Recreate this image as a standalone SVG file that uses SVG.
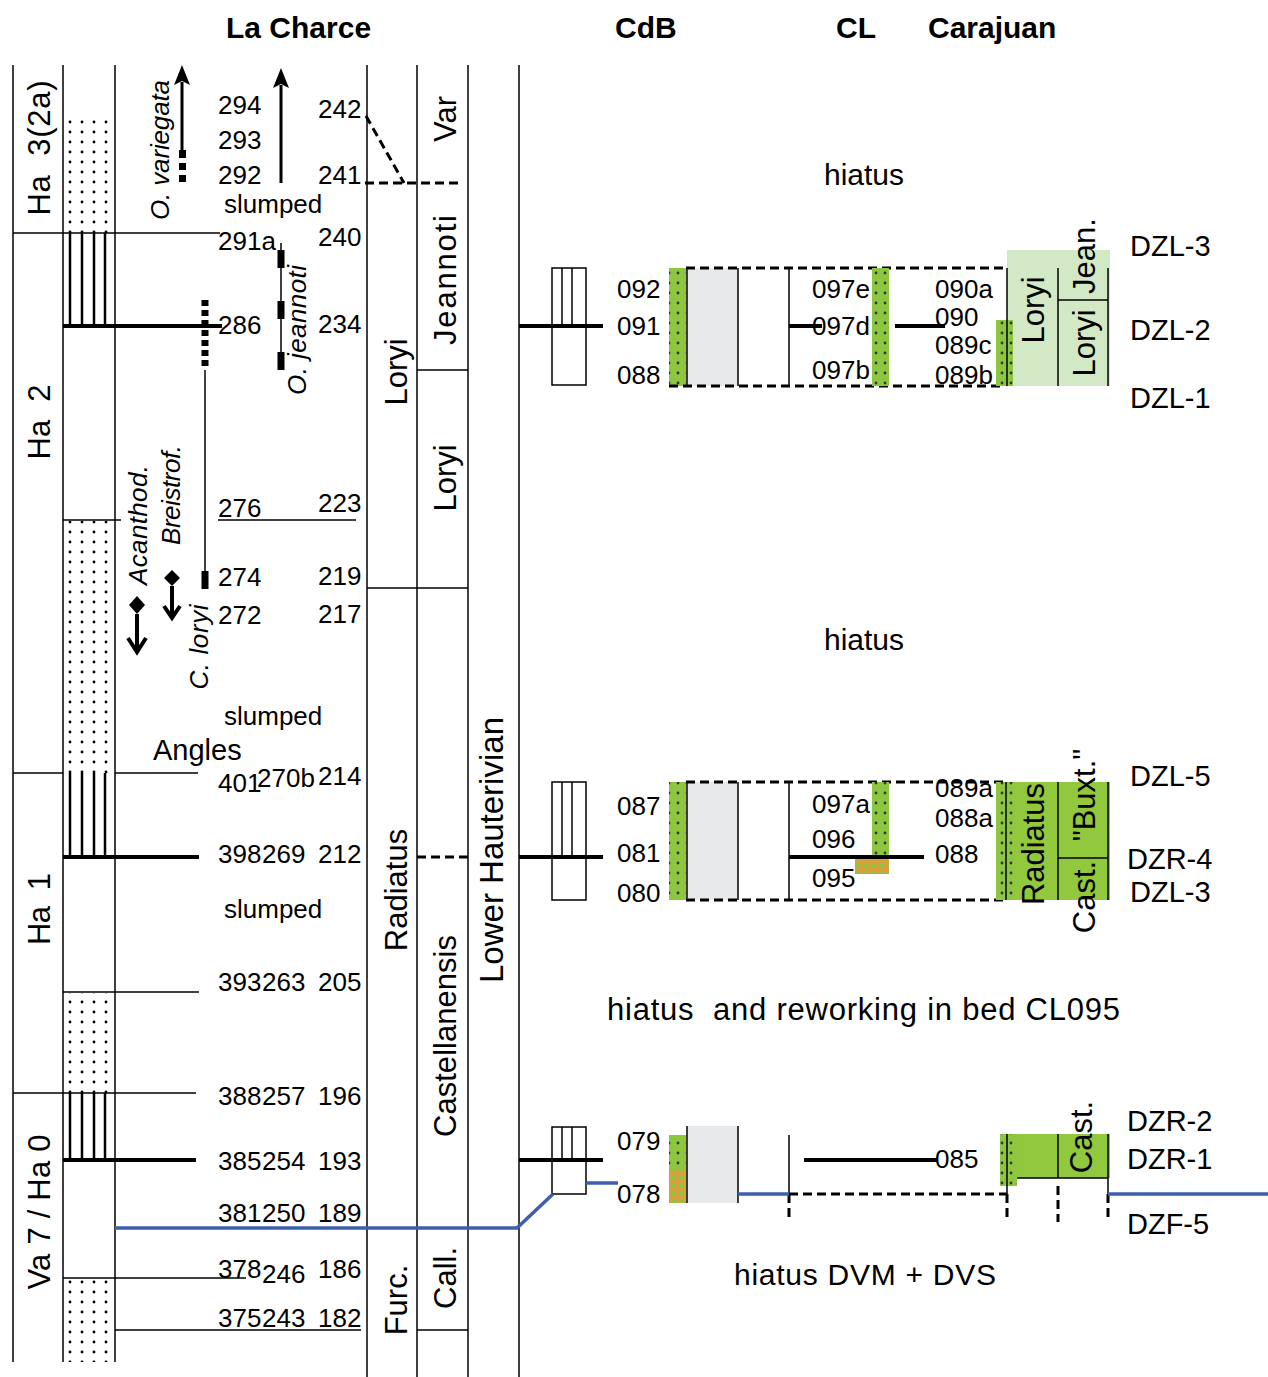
<svg xmlns="http://www.w3.org/2000/svg" width="1268" height="1377" viewBox="0 0 1268 1377">
<style>
.t{font-family:"Liberation Sans",Arial,sans-serif;font-size:26px;fill:#000}
.r{font-family:"Liberation Sans",Arial,sans-serif;font-size:31px;fill:#000;text-anchor:middle}
.i{font-style:italic}
.h{font-family:"Liberation Sans",Arial,sans-serif;font-size:30px;font-weight:bold;fill:#000}
.ln{stroke:#000;stroke-width:1.5;fill:none}
.bd{stroke:#000;stroke-width:4;fill:none}
.ds{stroke:#000;stroke-width:3;stroke-dasharray:9 5;fill:none}
.bl{stroke:#3e5fae;stroke-width:3.5;fill:none}
</style>
<defs>
<pattern id="dots" patternUnits="userSpaceOnUse" x="64" y="118" width="12" height="10"><circle cx="6" cy="4" r="1.4" fill="#000"/></pattern>
<pattern id="gdots" patternUnits="userSpaceOnUse" x="0" y="0" width="9" height="10"><rect width="9" height="10" fill="#8dc63f"/><circle cx="3" cy="3" r="1.4" fill="#333"/></pattern>
<pattern id="odots" patternUnits="userSpaceOnUse" x="0" y="0" width="8" height="8"><rect width="8" height="8" fill="#d4a13d"/><rect x="0" y="0" width="4" height="4" fill="#8dc63f"/></pattern>
</defs>
<rect width="1268" height="1377" fill="#fff"/>

<g id="headers">
<text class="h" x="226" y="38">La Charce</text>
<text class="h" x="615" y="38">CdB</text>
<text class="h" x="836" y="38">CL</text>
<text class="h" x="928" y="38">Carajuan</text>
</g>

<g id="lithology">
<rect x="64" y="118" width="51" height="115" fill="url(#dots)"/>
<rect x="64" y="521" width="51" height="252" fill="url(#dots)"/>
<rect x="64" y="993" width="51" height="100" fill="url(#dots)"/>
<rect x="64" y="1279" width="51" height="83" fill="url(#dots)"/>
<g stroke="#000" stroke-width="2.5">
<line x1="70" y1="233" x2="70" y2="326"/><line x1="82" y1="233" x2="82" y2="326"/><line x1="94" y1="233" x2="94" y2="326"/><line x1="105" y1="233" x2="105" y2="326"/>
<line x1="70" y1="773" x2="70" y2="857"/><line x1="82" y1="773" x2="82" y2="857"/><line x1="94" y1="773" x2="94" y2="857"/><line x1="105" y1="773" x2="105" y2="857"/>
<line x1="70" y1="1093" x2="70" y2="1160"/><line x1="82" y1="1093" x2="82" y2="1160"/><line x1="94" y1="1093" x2="94" y2="1160"/><line x1="105" y1="1093" x2="105" y2="1160"/>
</g>
</g>

<g id="grid">
<line class="ln" x1="13" y1="65" x2="13" y2="1362"/>
<line class="ln" x1="63" y1="65" x2="63" y2="1362"/>
<line class="ln" x1="115" y1="65" x2="115" y2="1362"/>
<line class="ln" x1="367" y1="65" x2="367" y2="1377"/>
<line class="ln" x1="417" y1="65" x2="417" y2="1377"/>
<line class="ln" x1="468" y1="65" x2="468" y2="1377"/>
<line class="ln" x1="519" y1="65" x2="519" y2="1377"/>
<line class="ln" x1="13" y1="233" x2="220" y2="233"/>
<line class="bd" x1="63" y1="326" x2="222" y2="326"/>
<line class="ln" x1="63" y1="520" x2="121" y2="520"/>
<line class="ln" x1="218" y1="520" x2="356" y2="520"/>
<line class="ln" x1="13" y1="773" x2="63" y2="773"/>
<line class="ln" x1="115" y1="773" x2="198" y2="773"/>
<line class="bd" x1="63" y1="857" x2="199" y2="857"/>
<line class="ln" x1="63" y1="992" x2="199" y2="992"/>
<line class="ln" x1="13" y1="1093" x2="196" y2="1093"/>
<line class="bd" x1="63" y1="1160" x2="196" y2="1160"/>
<line class="ln" x1="63" y1="1278" x2="246" y2="1278"/>
<line class="ln" x1="115" y1="1330" x2="361" y2="1330"/>
<line class="ln" x1="417" y1="370" x2="468" y2="370"/>
<line class="ln" x1="367" y1="588" x2="468" y2="588"/>
<line class="ln" x1="417" y1="1330" x2="468" y2="1330"/>
<line class="ds" x1="417" y1="857" x2="468" y2="857" stroke-width="2"/>
<line class="ds" x1="365" y1="183" x2="462" y2="183" stroke-width="2.5"/>
<line class="ds" x1="366" y1="116" x2="404" y2="183"/>
</g>

<g id="zone-labels">
<text class="r" transform="translate(50,148) rotate(-90)" textLength="135" lengthAdjust="spacing" xml:space="preserve">Ha  3(2a)</text>
<text class="r" transform="translate(50,422) rotate(-90)" textLength="75" lengthAdjust="spacing" xml:space="preserve">Ha  2</text>
<text class="r" transform="translate(50,909) rotate(-90)" textLength="72" lengthAdjust="spacing" xml:space="preserve">Ha  1</text>
<text class="r" transform="translate(50,1212) rotate(-90)" textLength="155" lengthAdjust="spacing">Va 7 / Ha 0</text>
<text class="r" transform="translate(407,372) rotate(-90)">Loryi</text>
<text class="r" transform="translate(407,890) rotate(-90)">Radiatus</text>
<text class="r" transform="translate(407,1300) rotate(-90)">Furc.</text>
<text class="r" transform="translate(456,119) rotate(-90)">Var</text>
<text class="r" transform="translate(456,280) rotate(-90)" textLength="130">Jeannoti</text>
<text class="r" transform="translate(456,478) rotate(-90)">Loryi</text>
<text class="r" transform="translate(456,1036) rotate(-90)" textLength="202">Castellanensis</text>
<text class="r" transform="translate(456,1278) rotate(-90)">Call.</text>
<text class="r" style="font-size:33px" transform="translate(503,850) rotate(-90)">Lower Hauterivian</text>
</g>

<g id="taxa">
<text class="r i" style="font-size:26px" transform="translate(169,150) rotate(-90)" textLength="140">O. variegata</text>
<text class="r i" style="font-size:26px" transform="translate(306,330) rotate(-90)" textLength="130">O. jeannoti</text>
<text class="r i" style="font-size:26px" transform="translate(147,525) rotate(-90)" textLength="120">Acanthod.</text>
<text class="r i" style="font-size:26px" transform="translate(180,495) rotate(-90)" textLength="100">Breistrof.</text>
<text class="r i" style="font-size:26px" transform="translate(208,647) rotate(-90)" textLength="85">C. loryi</text>
<path d="M182,65 L174,85 L182,81 L190,85 Z" fill="#000"/>
<line x1="182" y1="82" x2="182" y2="150" stroke="#000" stroke-width="3"/>
<rect x="179" y="150" width="7" height="8" fill="#000"/>
<rect x="179" y="163" width="7" height="7" fill="#000"/>
<rect x="179" y="175" width="7" height="7" fill="#000"/>
<path d="M281,68 L273,88 L281,84 L289,88 Z" fill="#000"/>
<line x1="281" y1="85" x2="281" y2="183" stroke="#000" stroke-width="3"/>
<line x1="281" y1="243" x2="281" y2="370" stroke="#000" stroke-width="1.5"/>
<rect x="277.5" y="250" width="7" height="18" fill="#000"/>
<rect x="277.5" y="301" width="7" height="18" fill="#000"/>
<rect x="277.5" y="352" width="7" height="18" fill="#000"/>
<line x1="205" y1="300" x2="205" y2="370" stroke="#000" stroke-width="7" stroke-dasharray="6 4"/>
<line x1="205" y1="370" x2="205" y2="572" stroke="#000" stroke-width="1.5"/>
<rect x="201.5" y="571" width="7" height="18" fill="#000"/>
<path d="M172,570 L180,578 L172,586 L164,578 Z" fill="#000"/>
<path d="M172,586 V618 M164,606 L172,618 L180,606" stroke="#000" stroke-width="4" fill="none"/>
<path d="M137,596 L145,605 L137,614 L129,605 Z" fill="#000"/>
<path d="M137,614 V652 M128,638 L137,652 L146,638" stroke="#000" stroke-width="4" fill="none"/>
</g>

<g id="la-charce-beds">
<text class="t" x="218" y="114">294</text>
<text class="t" x="218" y="149">293</text>
<text class="t" x="218" y="184">292</text>
<text class="t" x="318" y="118">242</text>
<text class="t" x="318" y="184">241</text>
<text class="t" x="224" y="213">slumped</text>
<text class="t" x="218" y="250">291a</text>
<text class="t" x="318" y="246">240</text>
<text class="t" x="218" y="334">286</text>
<text class="t" x="318" y="333">234</text>
<text class="t" x="218" y="517">276</text>
<text class="t" x="318" y="512">223</text>
<text class="t" x="218" y="586">274</text>
<text class="t" x="318" y="585">219</text>
<text class="t" x="218" y="624">272</text>
<text class="t" x="318" y="623">217</text>
<text class="t" x="224" y="725">slumped</text>
<text class="t" x="153" y="760" style="font-size:29px">Angles</text>
<text class="t" x="218" y="792">401</text>
<text class="t" x="257" y="787">270b</text>
<text class="t" x="318" y="785">214</text>
<text class="t" x="218" y="863">398</text>
<text class="t" x="262" y="863">269</text>
<text class="t" x="318" y="863">212</text>
<text class="t" x="224" y="918">slumped</text>
<text class="t" x="218" y="991">393</text>
<text class="t" x="262" y="991">263</text>
<text class="t" x="318" y="991">205</text>
<text class="t" x="218" y="1105">388</text>
<text class="t" x="262" y="1105">257</text>
<text class="t" x="318" y="1105">196</text>
<text class="t" x="218" y="1170">385</text>
<text class="t" x="262" y="1170">254</text>
<text class="t" x="318" y="1170">193</text>
<text class="t" x="218" y="1222">381</text>
<text class="t" x="262" y="1222">250</text>
<text class="t" x="318" y="1222">189</text>
<text class="t" x="218" y="1278">378</text>
<text class="t" x="262" y="1283">246</text>
<text class="t" x="318" y="1278">186</text>
<text class="t" x="218" y="1327">375</text>
<text class="t" x="262" y="1327">243</text>
<text class="t" x="318" y="1327">182</text>
</g>

<g id="block-top">
<rect x="552" y="268" width="34" height="117" fill="#fff" stroke="#000" stroke-width="1.5"/>
<line class="ln" x1="562" y1="268" x2="562" y2="326" stroke-width="2.5"/>
<line class="ln" x1="572" y1="268" x2="572" y2="326" stroke-width="2.5"/>
<line class="bd" x1="519" y1="326" x2="603" y2="326"/>
<rect x="669" y="268" width="17" height="118" fill="url(#gdots)"/>
<rect x="687" y="268" width="51" height="118" fill="#e8e9eb"/>
<line class="ln" x1="687" y1="268" x2="687" y2="386" stroke-width="2"/>
<line class="ln" x1="738" y1="268" x2="738" y2="386"/>
<line class="ln" x1="789" y1="268" x2="789" y2="386"/>
<line class="ds" x1="686" y1="268" x2="1006" y2="268"/>
<line class="ds" x1="669" y1="386" x2="1000" y2="386"/>
<line class="bd" x1="789" y1="326" x2="822" y2="326"/>
<rect x="872" y="268" width="17" height="118" fill="url(#gdots)"/>
<line class="bd" x1="895" y1="326" x2="945" y2="326"/>
<rect x="1007" y="250" width="103" height="136" fill="#d3e9c6"/>
<rect x="996" y="320" width="17" height="66" fill="url(#gdots)"/>
<line class="ln" x1="1007" y1="268" x2="1007" y2="386"/>
<line class="ln" x1="1058" y1="268" x2="1058" y2="386"/>
<line class="ln" x1="1108" y1="268" x2="1108" y2="386"/>
<line class="ln" x1="1058" y1="300" x2="1108" y2="300"/>
<text class="t" x="617" y="298">092</text>
<text class="t" x="617" y="335">091</text>
<text class="t" x="617" y="384">088</text>
<text class="t" x="812" y="298">097e</text>
<text class="t" x="812" y="335">097d</text>
<text class="t" x="812" y="379">097b</text>
<text class="t" x="935" y="298">090a</text>
<text class="t" x="935" y="326">090</text>
<text class="t" x="935" y="354">089c</text>
<text class="t" x="935" y="384">089b</text>
<text class="r" transform="translate(1044,310) rotate(-90)">Loryi</text>
<text class="r" transform="translate(1095,256) rotate(-90)">Jean.</text>
<text class="r" transform="translate(1095,343) rotate(-90)">Loryi</text>
</g>

<g id="block-middle">
<rect x="552" y="782" width="34" height="118" fill="#fff" stroke="#000" stroke-width="1.5"/>
<line class="ln" x1="562" y1="782" x2="562" y2="857" stroke-width="2.5"/>
<line class="ln" x1="572" y1="782" x2="572" y2="857" stroke-width="2.5"/>
<line class="bd" x1="519" y1="857" x2="603" y2="857"/>
<rect x="669" y="782" width="17" height="118" fill="url(#gdots)"/>
<rect x="687" y="782" width="51" height="118" fill="#e8e9eb"/>
<line class="ln" x1="687" y1="782" x2="687" y2="900" stroke-width="2"/>
<line class="ln" x1="738" y1="782" x2="738" y2="900"/>
<line class="ln" x1="789" y1="782" x2="789" y2="900"/>
<line class="ds" x1="686" y1="782" x2="1006" y2="782"/>
<line class="ds" x1="686" y1="900" x2="1006" y2="900"/>
<rect x="872" y="782" width="17" height="75" fill="url(#gdots)"/>
<rect x="855" y="858" width="34" height="16" fill="url(#odots)"/>
<line class="bd" x1="789" y1="857" x2="924" y2="857"/>
<rect x="996" y="782" width="114" height="118" fill="#92c83e"/>
<rect x="996" y="782" width="17" height="118" fill="url(#gdots)"/>
<line class="ln" x1="1006" y1="782" x2="1006" y2="900"/>
<line class="ln" x1="1058" y1="782" x2="1058" y2="900"/>
<line class="ln" x1="1108" y1="782" x2="1108" y2="900"/>
<line class="ln" x1="1058" y1="858" x2="1108" y2="858"/>
<text class="t" x="617" y="815">087</text>
<text class="t" x="617" y="862">081</text>
<text class="t" x="617" y="902">080</text>
<text class="t" x="812" y="813">097a</text>
<text class="t" x="812" y="848">096</text>
<text class="t" x="812" y="887">095</text>
<text class="t" x="935" y="797">089a</text>
<text class="t" x="935" y="827">088a</text>
<text class="t" x="935" y="863">088</text>
<text class="r" transform="translate(1044,844) rotate(-90)" textLength="122">Radiatus</text>
<text class="r" transform="translate(1095,795) rotate(-90)">"Buxt."</text>
<text class="r" transform="translate(1095,897) rotate(-90)">Cast.</text>
</g>

<g id="block-bottom">
<rect x="552" y="1127" width="34" height="67" fill="#fff" stroke="#000" stroke-width="1.5"/>
<line class="ln" x1="562" y1="1127" x2="562" y2="1160" stroke-width="2.5"/>
<line class="ln" x1="572" y1="1127" x2="572" y2="1160" stroke-width="2.5"/>
<line class="bd" x1="519" y1="1160" x2="603" y2="1160"/>
<rect x="669" y="1135" width="17" height="35" fill="url(#gdots)"/>
<rect x="669" y="1170" width="17" height="33" fill="url(#odots)"/>
<rect x="687" y="1126" width="51" height="77" fill="#e8e9eb"/>
<line class="ln" x1="687" y1="1126" x2="687" y2="1203" stroke-width="2"/>
<line class="ln" x1="738" y1="1126" x2="738" y2="1203"/>
<line class="ln" x1="789" y1="1135" x2="789" y2="1194"/>
<line class="ds" x1="789" y1="1194" x2="789" y2="1222" stroke-dasharray="8 6"/>
<line class="ds" x1="789" y1="1194" x2="1007" y2="1194"/>
<line class="bd" x1="804" y1="1160" x2="937" y2="1160"/>
<rect x="1000" y="1134" width="110" height="44" fill="#92c83e"/>
<rect x="1000" y="1134" width="17" height="52" fill="url(#gdots)"/>
<line class="ln" x1="1007" y1="1134" x2="1007" y2="1194"/>
<line class="ln" x1="1058" y1="1134" x2="1058" y2="1178"/>
<line class="ln" x1="1108" y1="1134" x2="1108" y2="1194"/>
<line class="ln" x1="1017" y1="1178" x2="1108" y2="1178"/>
<line class="ds" x1="1007" y1="1194" x2="1007" y2="1222" stroke-dasharray="8 6"/>
<line class="ds" x1="1058" y1="1186" x2="1058" y2="1222" stroke-dasharray="8 6"/>
<line class="ds" x1="1108" y1="1194" x2="1108" y2="1222" stroke-dasharray="8 6"/>
<text class="t" x="617" y="1150">079</text>
<text class="t" x="617" y="1203">078</text>
<text class="t" x="935" y="1168">085</text>
<text class="r" transform="translate(1092,1137) rotate(-90)">Cast.</text>
</g>

<g id="connectors">
<polyline class="bl" points="115,1228 517,1228 553,1194"/>
<line class="bl" x1="586" y1="1183" x2="618" y2="1183"/>
<line class="bl" x1="738" y1="1194" x2="789" y2="1194"/>
<line class="bl" x1="1108" y1="1194" x2="1268" y2="1194"/>
</g>

<g id="annotations">
<text class="r" x="864" y="185" style="font-size:30px">hiatus</text>
<text class="r" x="864" y="650" style="font-size:30px">hiatus</text>
<text class="t" x="607" y="1020" style="font-size:31px" textLength="513" lengthAdjust="spacing" xml:space="preserve">hiatus  and reworking in bed CL095</text>
<text class="t" x="734" y="1285" style="font-size:30px" textLength="262" lengthAdjust="spacing">hiatus DVM + DVS</text>
<text class="t" x="1130" y="256" style="font-size:29px">DZL-3</text>
<text class="t" x="1130" y="340" style="font-size:29px">DZL-2</text>
<text class="t" x="1130" y="408" style="font-size:29px">DZL-1</text>
<text class="t" x="1130" y="786" style="font-size:29px">DZL-5</text>
<text class="t" x="1127" y="869" style="font-size:29px">DZR-4</text>
<text class="t" x="1130" y="902" style="font-size:29px">DZL-3</text>
<text class="t" x="1127" y="1131" style="font-size:29px">DZR-2</text>
<text class="t" x="1127" y="1169" style="font-size:29px">DZR-1</text>
<text class="t" x="1127" y="1234" style="font-size:29px">DZF-5</text>
</g>
</svg>
